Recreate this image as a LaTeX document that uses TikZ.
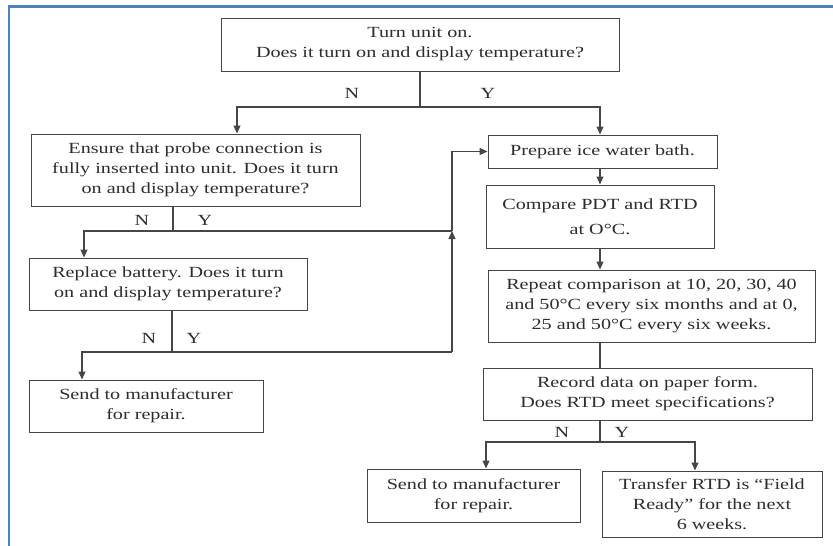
\documentclass[tikz,border=0pt]{standalone}
\usepackage{fontspec}
\setmainfont{Liberation Serif}[FakeStretch=1.3]
\usetikzlibrary{arrows.meta}
\definecolor{frameblue}{RGB}{79,129,189}
\definecolor{ink}{RGB}{70,70,70}
\definecolor{txt}{RGB}{45,45,45}
\newcommand{\boxfont}{\fontsize{15.5pt}{20pt}\selectfont}
\begin{document}
\begin{tikzpicture}[x=1pt,y=-1pt,
  box/.style={draw=ink, line width=1pt, inner sep=0pt, align=center, font=\boxfont, text=txt},
  lbl/.style={inner sep=0pt, font=\boxfont, text=txt},
  ln/.style={draw=ink, line width=1.1pt},
  arr/.style={draw=ink, line width=1.1pt, -{Triangle[length=8pt,width=7pt]}}]
\useasboundingbox (0,0) rectangle (833,546);
\fill[white] (0,0) rectangle (833,546);
\draw[frameblue, line width=2.5pt] (9,546) -- (9,6.5) -- (833,6.5);

% boxes
\node[box, minimum width=398pt, minimum height=53pt] (b1) at (420,44.5) {Turn unit on.\\Does it turn on and display temperature?};
\node[box, minimum width=329pt, minimum height=72pt] (b2) at (195.5,170) {Ensure that probe connection is\\fully inserted into unit. Does it turn\\on and display temperature?};
\node[box, minimum width=278pt, minimum height=52pt] (b3) at (168,284) {Replace battery. Does it turn\\on and display temperature?};
\node[box, minimum width=234pt, minimum height=52pt] (b4) at (146,406) {Send to manufacturer\\for repair.};
\node[box, minimum width=229pt, minimum height=33pt] (bp) at (602.5,151.5) {Prepare ice water bath.};
\node[box, minimum width=228pt, minimum height=63pt] (bc) at (600,216.5) {Compare PDT and RTD\\[5pt]at O°C.};
\node[box, minimum width=327pt, minimum height=72pt] (br) at (651.5,306) {Repeat comparison at 10, 20, 30, 40\\and 50°C every six months and at 0,\\25 and 50°C every six weeks.};
\node[box, minimum width=329pt, minimum height=52pt] (bd) at (647.5,394) {Record data on paper form.\\Does RTD meet specifications?};
\node[box, minimum width=213pt, minimum height=53pt] (bs) at (473.5,495.5) {Send to manufacturer\\for repair.};
\node[box, minimum width=220pt, minimum height=66pt] (bt) at (712,504) {Transfer RTD is “Field\\Ready” for the next\\6 weeks.};

% labels
\node[lbl] (n1) at (352,93) {N};
\node[lbl] (y1) at (488,93) {Y};
\node[lbl] (n2) at (142,220) {N};
\node[lbl] (y2) at (205,220) {Y};
\node[lbl] (n3) at (149,338) {N};
\node[lbl] (y3) at (194,338) {Y};
\node[lbl] (n4) at (562,432) {N};
\node[lbl] (y4) at (622,432) {Y};

% connectors from b1
\coordinate (t1) at (420,107);
\coordinate (a2) at (237,107);
\coordinate (a5) at (600,107);
\draw[ln] (b1.south) -- (t1);
\draw[arr] (t1) -- (a2) -- (a2 |- b2.north);
\draw[arr] (t1) -- (a5) -- (a5 |- bp.north);

% connectors from b2
\coordinate (t2) at (173,231);
\coordinate (a3) at (84,231);
\coordinate (v) at (452,231);
\draw[ln] (b2.south -| t2) -- (t2);
\draw[arr] (t2) -- (a3) -- (a3 |- b3.north);
\draw[ln] (t2) -- (v);

% connectors from b3
\coordinate (t3) at (172,352);
\coordinate (a4) at (82,352);
\coordinate (v3) at (452,352);
\draw[ln] (b3.south -| t3) -- (t3);
\draw[arr] (t3) -- (a4) -- (a4 |- b4.north);
\draw[ln] (t3) -- (v3);
\draw[arr] (v3) -- (v);
\draw[arr] (v) |- (bp.west);

% right column
\coordinate (c1) at (600,0);
\draw[arr] (bp.south -| c1) -- (bc.north -| c1);
\draw[arr] (bc.south -| c1) -- (br.north -| c1);
\draw[ln] (br.south -| c1) -- (bd.north -| c1);
\coordinate (t4) at (600,442);
\coordinate (a6) at (486,442);
\coordinate (a7) at (695,442);
\draw[ln] (bd.south -| t4) -- (t4);
\draw[arr] (t4) -- (a6) -- (a6 |- bs.north);
\draw[arr] (t4) -- (a7) -- (a7 |- bt.north);
\end{tikzpicture}
\end{document}
